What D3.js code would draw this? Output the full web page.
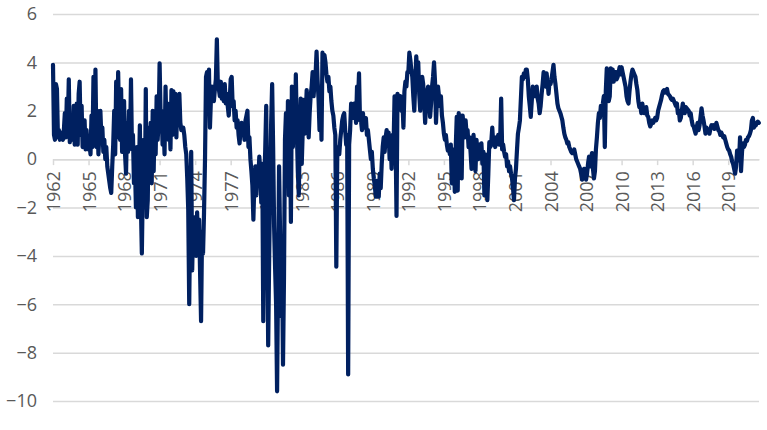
<!DOCTYPE html>
<html>
<head>
<meta charset="utf-8">
<script src="https://cdn.jsdelivr.net/npm/d3@7"></script>
<style>
  body { margin: 0; background: #fff; }
  svg { display: block; }
</style>
</head>
<body>
<div id="chart"></div>
<script>
// Monthly values, starting January 1962
const startYear = 1962;

const values1960s = [
  3.9, 1.0, 0.8, 3.1, 2.9, 0.9, 1.2, 0.8, 1.1, 0.9, 0.8, 1.2,
  1.9, 0.9, 2.5, 1.4, 3.3, 0.7, 1.1, 1.8, 0.8, 2.2, 0.6, 1.3,
  2.3, 0.6, 2.7, 3.2, 1.0, 2.2, 0.5, 0.8, 1.6, 0.4, 1.2, 0.5,
  0.4, 0.6, 0.2, 1.8, 0.5, 3.4, 0.6, 3.7, 0.5, 2.0, 0.2, 1.0,
  2.0, 0.9, 1.3, 0.3, 0.8, 0.0, 0.5, -0.3, -0.6, -0.9, -1.2, -1.4,
  -0.3, 0.6, 2.0, 0.2, 3.2, 0.9, 3.6, 1.5, 0.8, 2.9, 0.3, 2.0,
  2.4, 0.2, -0.6, 1.5, 0.3, 2.0, 0.5, 3.3, 0.4, 1.0, -1.0, -0.2,
  -2.0, 0.5, -2.4, -0.6, 1.4, -1.8, -3.9, -1.0, 0.8, -2.0, 2.9, -2.4
];

const values1970s = [
  -1.7, 1.3, -0.8, 1.5, -1.0, 2.0, -0.5, 1.8, 0.2, 2.6, 0.8, 1.5,
  3.96, 1.8, 2.0, 0.6, 1.4, 0.2, 3.0, 1.2, 2.3, 0.8, 1.5, 0.4,
  2.85, 1.0, 2.8, 1.9, 2.7, 0.9, 2.5, 1.8, 2.7, 1.5, 1.2, 1.3,
  1.3, 1.0, 0.5, 0.2, -0.8, -2.1, -6.0, -2.2, 0.3, -4.6, -2.5, -3.2,
  -2.4, -4.0, -2.2, -3.6, -2.5, -4.7, -6.7, -3.0, -3.9, -2.2, 0.0, 3.4,
  3.6, 2.0, 3.7, 1.3, 2.5, 3.0, 2.6, 2.4, 2.9, 3.3, 4.95, 3.0,
  2.9, 2.6, 3.2, 2.5, 2.9, 2.4, 3.1, 2.3, 2.7, 2.2, 1.8, 2.4,
  3.3, 3.4, 2.2, 2.4, 1.6, 2.0, 1.3, 1.6, 1.0, 0.65, 1.2, 1.5,
  1.0, 1.3, 0.8, 1.6, 1.8, 2.0, 0.5, 0.9, 0.0, -0.5, -1.1, -2.5,
  -1.0, -0.3, -1.5, -0.3, -0.8, 0.1, -0.5, -1.8, -0.2, -6.7, -1.0, 0.4
];

const values1980s = [
  2.2, -3.0, -7.7, -4.0, -1.0, 1.5, 3.1, 0.5, -2.8, -4.5, -6.0, -9.6,
  -5.0, -0.3, -3.0, -6.5, -4.0, -8.5, -4.9, 0.8, 1.9, -1.0, 2.4, -1.5,
  1.5, -2.6, 3.0, 0.5, 2.0, 1.0, 3.5, 1.2, -0.5, -1.5, 1.0, 2.5,
  -0.2, 1.2, 2.45, 1.05, 1.8, 2.85, 2.2, 0.9, 1.9, 2.6, 3.0, 3.6,
  2.6, 3.2, 3.5, 4.45, 3.3, 2.5, 1.2, 2.6, 0.8, 4.4, 3.8, 4.3,
  4.0, 3.5, 3.2, 3.4, 2.8, 3.0, 2.4, 2.0, 1.8, 1.3, 1.0, -4.45,
  0.3, 0.5, 0.2, 0.8, 1.2, 1.6, 1.8, 1.9, 1.2, 0.6, 1.0, -8.9,
  0.6, 1.2, 2.3, 2.0, 1.7, 2.3, 2.2, 1.5, 3.0, 2.4, 3.55, 1.6,
  1.6, 1.2, 1.9, 1.3, 1.5, 1.7, 1.0, 1.2, 0.8, 0.4, 0.0, 0.3,
  -0.4, -0.8, -1.1, -1.55, -0.9, -1.3, -1.55, -0.6, -1.2, -0.2, 0.5, 0.9
];

const values1990s = [
  0.3, 0.9, 1.2, 0.6, 1.1, 0.0, 0.8, -0.4, 1.0, 0.5, 2.6, 1.0,
  -2.35, 2.7, 2.3, 2.5, 2.6, 2.0, 2.4, 1.3, 2.8, 3.2, 3.0, 3.6,
  3.6, 4.4, 4.1, 3.7, 3.4, 2.6, 2.0, 3.2, 4.25, 3.5, 4.0, 2.7,
  2.0, 2.6, 3.4, 3.1, 2.4, 1.5, 2.3, 2.8, 3.0, 2.5, 1.75, 2.3,
  3.0, 3.4, 4.0, 3.2, 1.5, 2.5, 3.0, 2.6, 2.2, 2.6, 1.8, 1.5,
  1.05, 0.8, 1.0, 0.6, 0.35, 0.5, 0.2, 0.6, -1.0, 0.4, 0.3, -1.35,
  0.5, 1.75, -1.3, 1.9, 0.9, 1.8, -0.8, 1.8, 1.3, 0.9, 1.6, 1.0,
  1.2, 0.5, 0.9, 0.3, -0.4, 0.7, 1.0, 0.4, -0.5, 0.8, 0.3, 0.0,
  0.6, 0.3, 0.65, -0.2, 0.3, -1.5, 0.2, 0.0, -1.7, -0.6, 0.7, 0.5,
  0.7, 1.3, 0.6, 0.9, 0.5, 0.9, 0.7, 1.0, 0.6, 0.8, 2.5, 0.4
];

const values2000s = [
  0.6, 0.3, 0.1, 0.2, -0.3, -0.1, -0.5, -0.3, -0.6, -0.8, -1.2, -1.7,
  -0.8, -0.4, 0.35, 1.05, 1.3, 1.6, 2.5, 3.4, 3.3, 3.55, 3.4, 3.7,
  3.7, 3.3, 2.6, 2.2, 1.75, 2.4, 3.0, 2.6, 2.8, 2.6, 3.0, 2.5,
  2.3, 1.9, 2.2, 2.7, 3.1, 3.6, 3.3, 3.0, 3.55, 3.2, 2.7, 3.2,
  3.1, 3.3, 3.6, 3.9, 3.4, 3.1, 2.7, 2.3, 2.1, 2.0, 1.9, 1.75,
  1.6, 1.3, 1.05, 0.9, 0.8, 0.65, 0.7, 0.5, 0.4, 0.3, 0.25, 0.3,
  0.4, 0.2, 0.0, -0.1, -0.2, -0.3, -0.4, -0.6, -0.85, -0.5, -0.4, -0.6,
  -0.85, -0.6, -0.2, 0.1, -0.3, 0.0, 0.25, -0.4, -0.8, -0.5, 0.4, 0.9,
  1.5, 1.9, 1.7, 2.2, 2.05, 2.3, 2.6, 0.5, 2.8, 3.75, 3.2, 2.4,
  2.6, 3.75, 3.3, 3.7, 3.2, 3.5, 3.6, 3.3, 3.4, 3.6, 3.8, 3.5
];

const values2010s = [
  3.8, 3.6, 3.4, 3.2, 3.0, 2.6, 2.4, 2.3, 2.8, 3.2, 3.5, 3.7,
  3.6, 3.5, 3.4, 3.1, 2.85, 2.4, 2.15, 2.2, 1.9, 2.3, 2.0, 1.9,
  1.9, 2.15, 1.8, 1.75, 1.5, 1.35, 1.45, 1.6, 1.5, 1.6, 1.7, 1.6,
  1.7, 2.0, 2.15, 2.3, 2.45, 2.65, 2.8, 2.85, 2.75, 2.85, 2.9, 2.7,
  2.65, 2.6, 2.5, 2.45, 2.5, 2.4, 2.3, 2.2, 2.3, 1.9, 2.0, 1.6,
  1.7, 2.0, 2.3, 2.1, 1.9, 2.15, 2.1, 2.05, 2.0, 1.8, 1.9, 1.6,
  1.4, 1.35, 1.2, 1.05, 1.3, 1.5, 1.2, 1.4, 1.75, 2.1, 1.8, 1.6,
  1.35, 1.05, 1.3, 1.15, 1.2, 1.05, 1.25, 1.4, 1.3, 1.4, 1.25, 1.3,
  1.5, 1.35, 1.2, 1.15, 1.0, 1.1, 1.0, 0.9, 0.95, 0.8, 0.65, 0.5,
  0.4, 0.35, 0.2, 0.1, -0.1, -0.2, -0.4, -0.6, -0.3, 0.35, 0.1, -0.05
];

const values2020s = [
  0.9, -0.5, 0.3, 0.65, 0.5, 0.6, 0.8, 0.75, 0.9, 0.95, 1.05, 1.2,
  1.6, 1.7, 1.3, 1.45, 1.4, 1.5, 1.55, 1.5
];

const tickYears = [1962, 1965, 1968, 1971, 1974, 1977, 1980, 1983, 1986, 1989,
  1992, 1995, 1998, 2001, 2004, 2007, 2010, 2013, 2016, 2019];
const yTicks = [-10, -8, -6, -4, -2, 0, 2, 4, 6];

const series = [...values1960s, ...values1970s, ...values1980s, ...values1990s,
  ...values2000s, ...values2010s, ...values2020s]
  .map((v, i) => ({ t: startYear + i / 12, v }));

const width = 767, height = 430;
const margin = { top: 14, right: 8, bottom: 29, left: 53 };
const labelFont = "'Open Sans', Lato, sans-serif";

const svg = d3.select("#chart")
  .append("svg")
  .attr("width", width)
  .attr("height", height);

const x = d3.scaleLinear()
  .domain([startYear, 2021.6])
  .range([margin.left, width - margin.right]);

const y = d3.scaleLinear()
  .domain([-10, 6])
  .range([height - margin.bottom, margin.top]);

// Gridlines + y labels
const yAxis = svg.append("g")
  .attr("transform", `translate(${margin.left},0)`)
  .call(d3.axisLeft(y)
    .tickValues(yTicks)
    .tickSize(-(width - margin.left - margin.right))
    .tickPadding(16)
    .tickFormat(d3.format("d")))
  .attr("font-family", labelFont)
  .attr("font-size", 18);

yAxis.select(".domain").remove();
yAxis.selectAll("line")
  .attr("stroke", "#d9d9d9")
  .attr("stroke-width", 1.5);
yAxis.selectAll("text")
  .attr("fill", "#595959");

// x axis sits on the zero line
const xAxis = svg.append("g")
  .attr("transform", `translate(0,${y(0)})`)
  .call(d3.axisBottom(x)
    .tickValues(tickYears)
    .tickSize(6)
    .tickSizeOuter(0)
    .tickFormat(d3.format("d")))
  .attr("font-family", labelFont)
  .attr("font-size", 18);

xAxis.select(".domain")
  .attr("stroke", "#d9d9d9")
  .attr("stroke-width", 1.5);
xAxis.selectAll("line")
  .attr("stroke", "#d9d9d9")
  .attr("stroke-width", 1.5);
xAxis.selectAll("text")
  .attr("transform", "rotate(-90)")
  .attr("text-anchor", "end")
  .attr("x", -12)
  .attr("y", 0)
  .attr("dy", "0.36em")
  .attr("fill", "#595959");

// Line
const line = d3.line()
  .x(d => x(d.t))
  .y(d => y(d.v));

svg.append("path")
  .datum(series)
  .attr("fill", "none")
  .attr("stroke", "#002060")
  .attr("stroke-width", 4.2)
  .attr("stroke-linejoin", "round")
  .attr("stroke-linecap", "round")
  .attr("d", line);
</script>
</body>
</html>
